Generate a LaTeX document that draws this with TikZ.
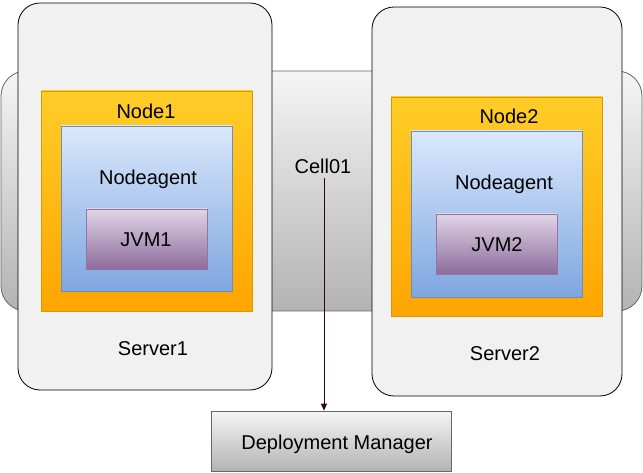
\documentclass[tikz,border=0pt]{standalone}
\usepackage{fontspec}
\setmainfont{Liberation Sans}
\usetikzlibrary{arrows.meta}
\definecolor{srvfill}{HTML}{F1F1F1}
\definecolor{grayA}{HTML}{F5F5F5}
\definecolor{grayB}{HTML}{B3B3B3}
\definecolor{grayline}{HTML}{666666}
\definecolor{orA}{HTML}{FFCD28}
\definecolor{orB}{HTML}{FFA500}
\definecolor{orline}{HTML}{D79B00}
\definecolor{blA}{HTML}{DAE8FC}
\definecolor{blB}{HTML}{7EA6E0}
\definecolor{blline}{HTML}{6C8EBF}
\definecolor{puA}{HTML}{E1D5E7}
\definecolor{puB}{HTML}{8C6C9C}
\definecolor{puline}{HTML}{9673A6}
\definecolor{arrowcol}{HTML}{33001A}
\tikzset{
  box/.style={rectangle, inner sep=0pt, line width=0.8pt},
  cellbox/.style={box, draw=grayline, top color=grayA, bottom color=grayB, rounded corners=25pt},
  serverbox/.style={box, draw=black, fill=srvfill, rounded corners=22pt},
  nodebox/.style={box, draw=orline, top color=orA, bottom color=orB},
  agentbox/.style={box, draw=blline, top color=blA, bottom color=blB},
  jvmbox/.style={box, draw=puline, top color=puA, bottom color=puB},
  dmbox/.style={box, draw=grayline, top color=grayA, bottom color=grayB},
  lbl/.style={inner sep=0pt, anchor=base, font=\fontsize{20}{24}\selectfont},
  conn/.style={draw=arrowcol, line width=0.8pt, -{Triangle[length=7pt,width=6pt]}}
}
\begin{document}
\begin{tikzpicture}[x=1pt,y=-1pt]
\useasboundingbox (0,0) rectangle (643,473);
\node[cellbox, minimum width=641pt, minimum height=240pt] (cell) at (321.5,191) {};
\node[serverbox, minimum width=254pt, minimum height=387pt] (server1) at (145,196.5) {};
\node[serverbox, minimum width=250pt, minimum height=389pt] (server2) at (497,201.5) {};
\node[nodebox, minimum width=211pt, minimum height=220pt] (node1) at (146.5,201) {};
\node[agentbox, minimum width=171pt, minimum height=165pt] (agent1) at (146.5,208.5) {};
\node[jvmbox, minimum width=121pt, minimum height=60pt] (jvm1) at (146.5,239) {};
\node[nodebox, minimum width=211pt, minimum height=219pt] (node2) at (496.5,206.5) {};
\node[agentbox, minimum width=171pt, minimum height=166pt] (agent2) at (496.5,214) {};
\node[jvmbox, minimum width=121pt, minimum height=60pt] (jvm2) at (496.5,244) {};
\node[dmbox, minimum width=240pt, minimum height=60pt] (dm) at (331,441) {};
\node[lbl] (node1lbl) at (146,119) {Node1};
\node[lbl] (agent1lbl) at (148,184.3) {Nodeagent};
\node[lbl] (jvm1lbl) at (146,246.7) {JVM1};
\node[lbl] (server1lbl) at (153,355) {Server1};
\node[lbl] (node2lbl) at (509,124) {Node2};
\node[lbl] (agent2lbl) at (504,189.5) {Nodeagent};
\node[lbl] (jvm2lbl) at (497,251.5) {JVM2};
\node[lbl] (server2lbl) at (505,360) {Server2};
\node[lbl] (celllbl) at (323,174) {Cell01};
\node[lbl] (dmlbl) at (337,449.3) {Deployment Manager};
\coordinate (arrstart) at (324,178);
\draw[conn] (arrstart) -- (arrstart |- dm.north);
\end{tikzpicture}
\end{document}
